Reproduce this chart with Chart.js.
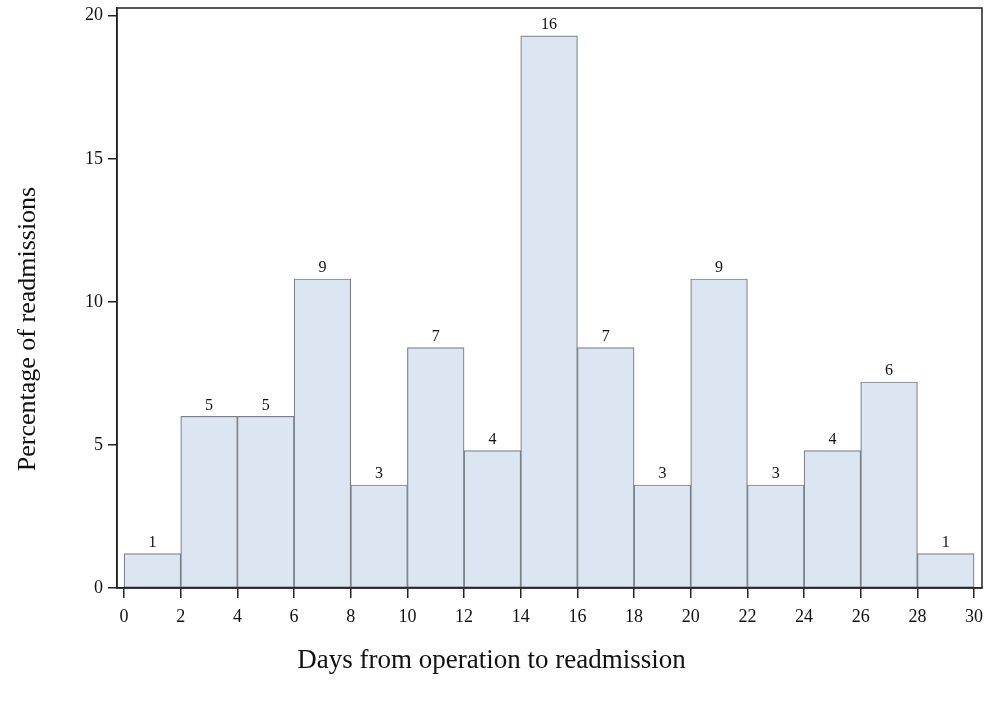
<!DOCTYPE html>
<html>
<head>
<meta charset="utf-8">
<script src="https://cdn.jsdelivr.net/npm/chart.js@4.4.0/dist/chart.umd.min.js"></script>
<style>
  body { margin: 0; background: #fff; }
  canvas { display: block; }
</style>
</head>
<body>
<canvas id="histChart" width="995" height="702"></canvas>
<script>
// bin centres (days), percentage of readmissions, and counts above bars
const binCentres = [1, 3, 5, 7, 9, 11, 13, 15, 17, 19, 21, 23, 25, 27, 29];
const percentages = [1.2, 6.0, 6.0, 10.8, 3.6, 8.4, 4.8, 19.3, 8.4, 3.6, 10.8, 3.6, 4.8, 7.2, 1.2];
const counts = [1, 5, 5, 9, 3, 7, 4, 16, 7, 3, 9, 3, 4, 6, 1];
const xTickValues = [0, 2, 4, 6, 8, 10, 12, 14, 16, 18, 20, 22, 24, 26, 28, 30];
const yTickValues = [0, 5, 10, 15, 20];
const xTitle = 'Days from operation to readmission';
const yTitle = 'Percentage of readmissions';

const serif = '"Liberation Serif", "Times New Roman", serif';

// frame round the plot area, count labels, axis titles
const framePlugin = {
  id: 'frame',
  afterDatasetsDraw(chart) {
    const { ctx, chartArea } = chart;
    ctx.save();
    ctx.strokeStyle = '#222';
    ctx.lineWidth = 1.5;
    ctx.strokeRect(chartArea.left, chartArea.top, chartArea.right - chartArea.left, chartArea.bottom - chartArea.top);

    ctx.fillStyle = '#111';
    ctx.font = '16px ' + serif;
    ctx.textAlign = 'center';
    ctx.textBaseline = 'bottom';
    chart.getDatasetMeta(0).data.forEach((bar, i) => {
      ctx.fillText(String(counts[i]), bar.x, bar.y - 3);
    });

    // axis titles (sit a bit off-centre in the original figure)
    ctx.textBaseline = 'middle';
    ctx.font = '27px ' + serif;
    ctx.fillText(xTitle, chartArea.left - 58 + (chartArea.right - chartArea.left) / 2, chartArea.bottom + 73);
    ctx.translate(28, chartArea.top + 321);
    ctx.rotate(-Math.PI / 2);
    ctx.font = '26px ' + serif;
    ctx.fillText(yTitle, 0, 0);
    ctx.restore();
  }
};

const ctx = document.getElementById('histChart').getContext('2d');

new Chart(ctx, {
  type: 'bar',
  data: {
    datasets: [{
      data: binCentres.map((x, i) => ({ x: x, y: percentages[i] })),
      backgroundColor: '#dce6f2',
      borderColor: '#7a7f86',
      borderWidth: 1.2,
      barPercentage: 1,
      categoryPercentage: 1,
      borderSkipped: false
    }]
  },
  options: {
    responsive: false,
    animation: false,
    layout: { padding: { top: 8, right: 13, left: 0, bottom: 0 } },
    plugins: {
      legend: { display: false },
      tooltip: { enabled: false }
    },
    scales: {
      x: {
        type: 'linear',
        offset: false,
        min: -0.25,
        max: 30.28,
        afterBuildTicks: scale => { scale.ticks = xTickValues.map(v => ({ value: v })); },
        afterFit: scale => { scale.height = 114; scale.paddingLeft = 0; scale.paddingRight = 0; },
        grid: { display: true, offset: false, drawOnChartArea: false, drawTicks: true, tickLength: 10, color: '#222', lineWidth: 1.5 },
        border: { display: true, color: '#222', width: 1.5 },
        ticks: { color: '#111', font: { family: serif, size: 18 }, padding: 8, maxRotation: 0 },
        title: { display: false }
      },
      y: {
        min: 0,
        max: 20.27,
        afterBuildTicks: scale => { scale.ticks = yTickValues.map(v => ({ value: v })); },
        afterFit: scale => { scale.width = 117; scale.paddingTop = 0; scale.paddingBottom = 0; },
        grid: { display: true, drawOnChartArea: false, drawTicks: true, tickLength: 9, color: '#222', lineWidth: 1.5 },
        border: { display: true, color: '#222', width: 1.5 },
        ticks: { color: '#111', font: { family: serif, size: 18 }, padding: 5 },
        title: { display: false }
      }
    }
  },
  plugins: [framePlugin]
});
</script>
</body>
</html>
